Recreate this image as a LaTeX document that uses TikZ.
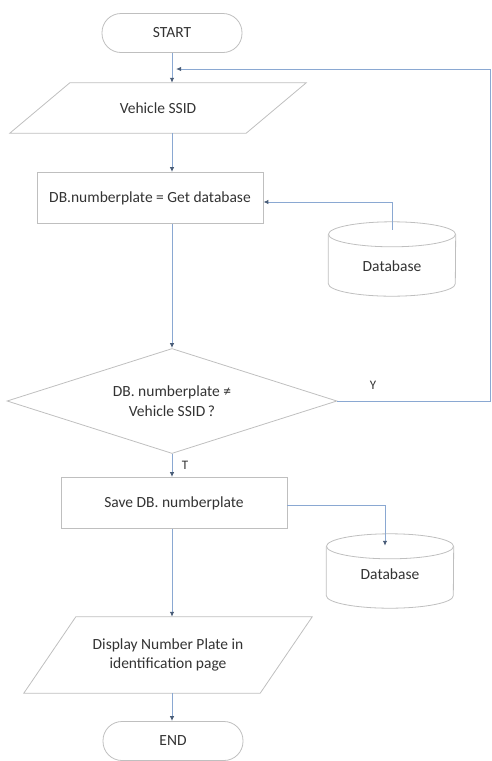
\documentclass[tikz,border=0pt]{standalone}
\usepackage{fontspec}
\setmainfont{Carlito}
\usetikzlibrary{positioning,shapes.geometric,arrows.meta,calc}
\definecolor{edge}{HTML}{BFBFBF}
\definecolor{flow}{HTML}{8AA8D2}
\definecolor{tip}{HTML}{4A5D78}

\begin{document}
\begin{tikzpicture}[x=1pt,y=-1pt,font=\fontsize{15.5}{19.5}\selectfont,text=black!80,
  term/.style={draw=edge,line width=0.8pt,rounded corners=19pt,minimum width=140pt,minimum height=39pt,inner sep=0pt},
  proc/.style={draw=edge,line width=0.8pt,minimum width=226pt,minimum height=51pt,inner sep=0pt},
  io/.style={minimum width=236pt,align=center,inner sep=0pt},
  iobox/.style={draw=edge,line width=0.8pt},
  dec/.style={draw=edge,line width=0.8pt,diamond,aspect=3.14,minimum width=330pt,minimum height=105pt,
              inner sep=0pt,align=center},
  db/.style={minimum width=127pt,minimum height=74pt,inner sep=0pt},
  arr/.style={-{Latex[length=5pt,width=4.5pt,color=tip]},flow,line width=1pt},
  lbl/.style={font=\fontsize{13}{15}\selectfont,text=black!80}]
\useasboundingbox (0,0) rectangle (492,761);
% main column
\node[term] (start) at (172,33) {START};
\node[io,minimum height=50pt] (vin) at (158,108) {Vehicle SSID};
\node[proc] (get) at (150,198) {DB.numberplate = Get database};
\node[db] (db1) at (392,259) {};
\node at (392,266) {Database};
\node[dec] (chk) at (172,401) {DB. numberplate ≠\\Vehicle SSID\,?};
\node[proc] (save) at (174,503) {Save DB. numberplate};
\node[db] (db2) at (390,571) {};
\node at (390,574) {Database};
\node[io,minimum height=76pt] (vout) at (168,655) {Display Number Plate in\\identification page};
\node[term] (end) at (173,741) {END};
% parallelograms
\draw[iobox] ([xshift=30pt]vin.north west) -- ([xshift=30pt]vin.north east)
  -- ([xshift=-30pt]vin.south east) -- ([xshift=-30pt]vin.south west) -- cycle;
\draw[iobox] ([xshift=26pt]vout.north west) -- ([xshift=26pt]vout.north east)
  -- ([xshift=-26pt]vout.south east) -- ([xshift=-26pt]vout.south west) -- cycle;
% cylinders
\foreach \n in {db1,db2}{
  \draw[iobox] ($(\n.north west)+(0,12.5)$) -- ($(\n.south west)+(0,-12.5)$)
    arc[start angle=180,end angle=360,x radius=63.5pt,y radius=12.5pt]
    -- ($(\n.north east)+(0,12.5)$);
  \draw[iobox] ($(\n.north)+(0,12.5)$) ellipse[x radius=63.5pt,y radius=12.5pt];
}
% loop points
\coordinate (join) at (172,69);
\coordinate (rt) at (490,0);
% arrows
\draw[flow,line width=1pt] (start.south) -- (join);
\draw[arr] (join) -- (join |- vin.north);
\draw[arr] (vin.south -| start) -- (get.north -| start);
\draw[arr] ([yshift=-8pt]db1.north) |- ([yshift=-4pt]get.east);
\draw[arr] (get.south -| start) -- (chk.north);
\draw[arr] (chk.east) -- (chk.east -| rt) |- ([xshift=4pt]join);
\node[lbl] (y) at (373,385) {Y};
\draw[arr] (chk.south) -- (chk.south |- save.north) node[lbl,midway,right=6pt] (t) {T};
\draw[arr] ([yshift=-2pt]save.east) -| ([xshift=-5pt,yshift=-12pt]db2.north);
\draw[arr] (save.south -| chk) -- (vout.north -| chk);
\draw[arr] (vout.south -| chk) -- (end.north -| chk);
\end{tikzpicture}
\end{document}
